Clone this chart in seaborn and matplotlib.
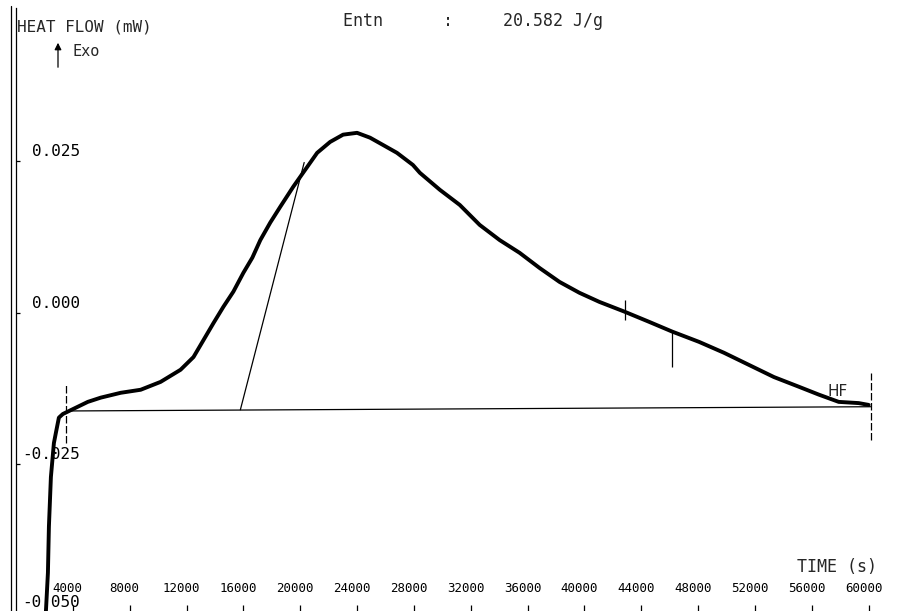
import pandas as pd
import seaborn as sns
import matplotlib.pyplot as plt
from matplotlib.lines import Line2D
from matplotlib.transforms import ScaledTranslation

# heat flow trace (time in s, heat flow in mW)
time_s = [2100, 2246, 2316, 2456, 2667, 2807, 3018, 3298, 3649, 4351, 5053,
          5965, 7369, 8773, 10176, 11580, 12492, 13194, 13896, 14597, 15299,
          16001, 16633, 17194, 17896, 18598, 19510, 20352, 21194, 22107, 23019,
          24002, 24914, 25826, 26809, 27932, 28423, 29827, 31230, 32634, 34037,
          35441, 36845, 38248, 39652, 41055, 42810, 44564, 46178, 48073, 49828,
          51582, 53337, 55091, 56495, 57899, 59302, 60004]
heat_flow = [-0.0495, -0.0429, -0.0353, -0.0271, -0.0215, -0.0198, -0.0173,
             -0.0167, -0.0163, -0.0155, -0.0147, -0.0140, -0.0132, -0.0127,
             -0.0114, -0.0094, -0.0073, -0.0045, -0.0017, 0.0010, 0.0035,
             0.0066, 0.0091, 0.0120, 0.0149, 0.0175, 0.0208, 0.0236, 0.0264,
             0.0282, 0.0294, 0.0297, 0.0289, 0.0277, 0.0264, 0.0244, 0.0231,
             0.0203, 0.0178, 0.0145, 0.0120, 0.0099, 0.0074, 0.0051, 0.0033,
             0.0018, 0.0002, -0.0015, -0.0031, -0.0048, -0.0066, -0.0086,
             -0.0106, -0.0122, -0.0135, -0.0147, -0.0149, -0.0152]

baseline_t = [3650, 60140]
baseline_hf = [-0.0162, -0.0155]
tangent_t = [15790, 20280]
tangent_hf = [-0.0160, 0.0248]

marker_t = [3500, 42880, 46180, 60140]
marker_lo = [-0.0215, -0.0012, -0.0089, -0.0210]
marker_hi = [-0.0116, 0.0021, -0.0031, -0.0099]

x_ticks = list(range(4000, 60001, 4000))
y_ticks = [0.025, 0.000, -0.025, -0.050]
y_labels = ['0.025', '0.000', '-0.025', '-0.050']

df = pd.DataFrame({'Time': time_s, 'HeatFlow': heat_flow})

sns.set_theme(style="white")
plt.rcParams['font.family'] = ['DejaVu Sans Mono', 'DejaVu Sans']

W, H = 897, 611
fig = plt.figure(figsize=(W / 100, H / 100), dpi=100)
ax = fig.add_axes([16 / W, -6 / H, (W - 16) / W, 609 / H])

sns.lineplot(data=df, x='Time', y='HeatFlow', color='black', linewidth=2.8,
             estimator=None, sort=False, ax=ax)
ax.plot(baseline_t, baseline_hf, color='black', linewidth=0.9)
ax.plot(tangent_t, tangent_hf, color='black', linewidth=0.9)
ax.vlines([marker_t[0], marker_t[3]], [marker_lo[0], marker_lo[3]],
          [marker_hi[0], marker_hi[3]], color='black', linewidth=0.9,
          linestyles=(0, (6, 2)))
ax.vlines(marker_t[1:3], marker_lo[1:3], marker_hi[1:3], color='black',
          linewidth=0.9)

ax.set_xlim(0, 62000)
ax.set_ylim(-0.0502, 0.0503)
ax.set_xlabel('')
ax.set_ylabel('')

ax.set_xticks(x_ticks)
ax.set_xticklabels([str(t) for t in x_ticks])
ax.set_yticks(y_ticks)
ax.set_yticklabels(y_labels)
ax.tick_params(axis='x', direction='in', length=8.5, width=0.9, pad=-25,
               labelsize=9, colors='black', bottom=True)
ax.tick_params(axis='y', direction='in', length=3, width=0.9, pad=-46,
               labelsize=11.5, colors='black', left=True)
for lab in ax.get_xticklabels():
    lab.set_transform(lab.get_transform() + ScaledTranslation(-0.05, 0, fig.dpi_scale_trans))
ylabs = ax.get_yticklabels()
for lab in ylabs[:-1]:
    lab.set_transform(lab.get_transform() + ScaledTranslation(0, 0.11, fig.dpi_scale_trans))
# lowest label sits a little higher so it stays inside the page
ylabs[-1].set_transform(ylabs[-1].get_transform() + ScaledTranslation(0, 0.15, fig.dpi_scale_trans))

for side in ['top', 'right', 'bottom']:
    ax.spines[side].set_visible(False)
ax.spines['left'].set_color('black')
ax.spines['left'].set_linewidth(0.9)
fig.add_artist(Line2D([11 / W, 11 / W], [0, 1 - 6 / H], color='black',
                      linewidth=0.9, transform=fig.transFigure))


def px(x, y):
    return x / W, 1 - y / H


fig.text(*px(17, 27), 'HEAT FLOW (mW)', ha='left', va='center', fontsize=11.5)
fig.text(*px(72, 52), 'Exo', ha='left', va='center', fontsize=11)
ax.annotate('', xy=(58, H - 40), xytext=(58, H - 70), xycoords='figure pixels',
            textcoords='figure pixels',
            arrowprops=dict(arrowstyle='-|>', color='black', lw=0.9,
                            mutation_scale=10))
fig.text(*px(343, 21), 'Entn      :     20.582 J/g', ha='left', va='center',
         fontsize=12)
fig.text(*px(797, 567), 'TIME (s)', ha='left', va='center', fontsize=12)
fig.text(*px(838, 391), 'HF', ha='center', va='center', fontsize=11,
         family=['DejaVu Sans'])

fig.savefig('out.png', dpi=100)
